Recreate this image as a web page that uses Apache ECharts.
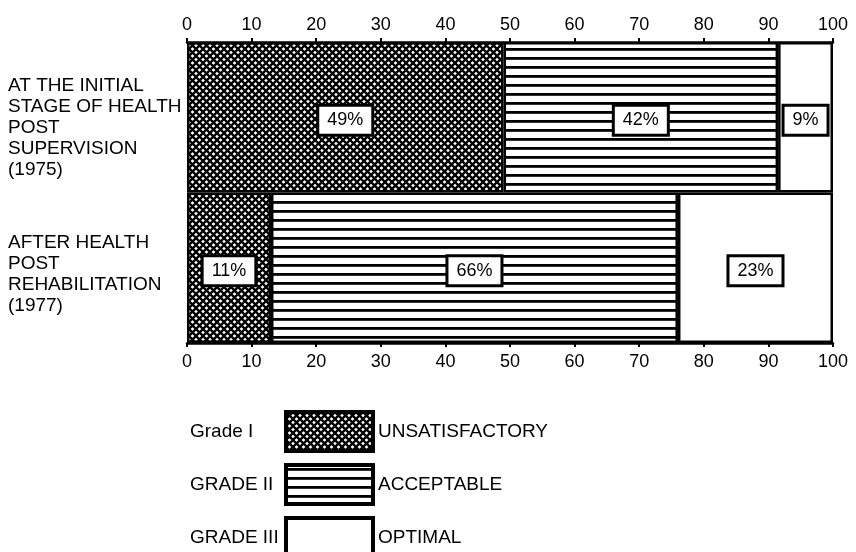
<!DOCTYPE html>
<html><head><meta charset="utf-8">
<script src="https://cdn.jsdelivr.net/npm/echarts@6/dist/echarts.min.js"></script>
<style>html,body{margin:0;padding:0;background:#fff}#c{width:856px;height:552px}</style>
</head><body><div id="c"></div>
<script>
var categories = ['AT THE INITIAL\nSTAGE OF HEALTH\nPOST\nSUPERVISION\n(1975)', 'AFTER HEALTH\nPOST\nREHABILITATION\n(1977)'];
var seriesNames = ['UNSATISFACTORY', 'ACCEPTABLE', 'OPTIMAL'];
var gradeNames = ['Grade I', 'GRADE II', 'GRADE III'];
// segment widths as drawn (percent of the 0-100 scale)
var unsatisfactory = [49, 13];
var acceptable = [42.5, 63];
var optimal = [8.5, 24];
// printed labels inside the bars
var unsatLabels = ['49%', '11%'];
var accLabels = ['42%', '66%'];
var optLabels = ['9%', '23%'];

function crossHatch(){
  var s = 7;
  var c = document.createElement('canvas'); c.width = s; c.height = s;
  var g = c.getContext('2d');
  g.fillStyle = '#fff'; g.fillRect(0,0,s,s);
  g.strokeStyle = '#000'; g.lineWidth = 2.3;
  g.beginPath();
  g.moveTo(-1,-1); g.lineTo(s+1,s+1);
  g.moveTo(-1,s+1); g.lineTo(s+1,-1);
  g.stroke();
  return c;
}
function hLines(){
  var c = document.createElement('canvas'); c.width = 8; c.height = 9;
  var g = c.getContext('2d');
  g.fillStyle = '#fff'; g.fillRect(0,0,8,9);
  g.fillStyle = '#000'; g.fillRect(0,3,8,2.8);
  return c;
}
var patterns = [
  {image: crossHatch(), repeat: 'repeat'},
  {image: hLines(), repeat: 'repeat'},
  '#ffffff'
];
var valueSets = [unsatisfactory, acceptable, optimal];
var labelSets = [unsatLabels, accLabels, optLabels];

var series = seriesNames.map(function(n, i){
  return {
    name: n, type: 'bar', stack: 's', barCategoryGap: 0, barWidth: '100%',
    xAxisIndex: 0,
    data: valueSets[i],
    itemStyle: {color: patterns[i], borderColor: '#000', borderWidth: 2.5},
    label: {
      show: true, position: 'inside', offset: [0, 3],
      formatter: function(p){ return labelSets[i][p.dataIndex]; },
      fontFamily: 'Liberation Sans', fontSize: 18, color: '#000',
      backgroundColor: '#fff', borderColor: '#000', borderWidth: 3,
      padding: [5, 8, 4, 8]
    },
    emphasis: {disabled: true}
  };
});

function axis(pos){
  return {
    type: 'value', min: 0, max: 100, interval: 10, position: pos,
    axisLine: {show: true, lineStyle: {color: '#000', width: 2.5}},
    axisTick: {show: true, inside: false, length: 4, lineStyle: {color: '#000', width: 2}},
    splitLine: {show: false},
    axisLabel: {color: '#000', fontFamily: 'Liberation Sans', fontSize: 18, margin: pos === 'top' ? 8 : 10}
  };
}

var gapHeights = [22, 14];

var chart = echarts.init(document.getElementById('c'));
chart.setOption({
  animation: false,
  backgroundColor: '#fff',
  grid: {left: 187, right: 23, top: 42, bottom: 209},
  xAxis: [axis('top'), axis('bottom')],
  yAxis: {
    type: 'category', data: categories, inverse: true,
    axisLine: {show: false}, axisTick: {show: false},
    axisLabel: {
      align: 'left', margin: 179, color: '#000',
      formatter: function(v, i){
        return '{g' + i + '| }\n' + v.split('\n').map(function(l){ return '{t|' + l + '}'; }).join('\n');
      },
      rich: {
        g0: {lineHeight: gapHeights[0], fontSize: 4},
        g1: {lineHeight: gapHeights[1], fontSize: 4},
        t: {fontFamily: 'Liberation Sans', fontSize: 19, lineHeight: 21, color: '#000'}
      }
    }
  },
  legend: {
    orient: 'vertical', left: 284, top: 410, height: 200, padding: 0,
    itemWidth: 87, itemHeight: 39, itemGap: 10,
    icon: 'rect',
    data: seriesNames,
    itemStyle: {borderColor: '#000', borderWidth: 4},
    textStyle: {color: '#000', fontFamily: 'Liberation Sans', fontSize: 19},
    selectedMode: false
  },
  graphic: gradeNames.map(function(t, i){
    return {type: 'text', left: 190, top: 422 + i * 53,
      style: {text: t, fill: '#000', font: '19px "Liberation Sans"'}};
  }),
  series: series
});
</script></body></html>
